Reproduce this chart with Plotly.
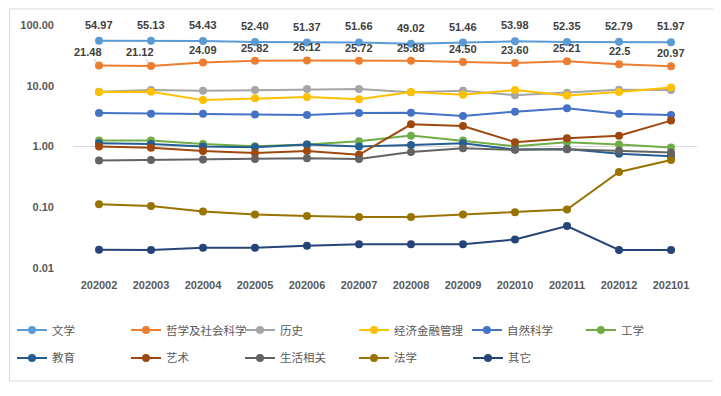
import math
import plotly.graph_objects as go

months = ["202002", "202003", "202004", "202005", "202006", "202007",
          "202008", "202009", "202010", "202011", "202012", "202101"]

wenxue = [54.97, 55.13, 54.43, 52.40, 51.37, 51.66, 49.02, 51.46, 53.98, 52.35, 52.79, 51.97]
zhexue = [21.48, 21.12, 24.09, 25.82, 26.12, 25.72, 25.88, 24.50, 23.60, 25.21, 22.5, 20.97]
lishi = [8.0, 8.5, 8.3, 8.5, 8.8, 8.8, 7.8, 8.3, 7.0, 7.7, 8.6, 8.5]
jingji = [7.9, 8.0, 5.8, 6.2, 6.5, 6.0, 7.9, 7.1, 8.5, 6.9, 7.9, 9.4]
ziran = [3.57, 3.47, 3.47, 3.35, 3.30, 3.57, 3.60, 3.18, 3.75, 4.25, 3.47, 3.30]
gongxue = [1.25, 1.25, 1.10, 1.01, 1.08, 1.22, 1.51, 1.25, 1.01, 1.18, 1.08, 0.96]
jiaoyu = [1.13, 1.10, 1.00, 0.97, 1.08, 1.00, 1.06, 1.13, 0.89, 0.91, 0.76, 0.69]
yishu = [1.00, 0.95, 0.84, 0.78, 0.84, 0.73, 2.32, 2.18, 1.18, 1.37, 1.50, 2.67]
shenghuo = [0.59, 0.60, 0.61, 0.62, 0.64, 0.62, 0.81, 0.94, 0.88, 0.90, 0.85, 0.80]
faxue = [0.112, 0.105, 0.085, 0.076, 0.072, 0.069, 0.069, 0.076, 0.083, 0.092, 0.38, 0.60]
qita = [0.020, 0.0197, 0.0216, 0.0216, 0.0233, 0.0245, 0.0245, 0.0245, 0.0295, 0.049, 0.0198, 0.0198]

wenxue_labels = ["54.97", "55.13", "54.43", "52.40", "51.37", "51.66",
                 "49.02", "51.46", "53.98", "52.35", "52.79", "51.97"]
zhexue_labels = ["21.48", "21.12", "24.09", "25.82", "26.12", "25.72",
                 "25.88", "24.50", "23.60", "25.21", "22.5", "20.97"]

ytick_vals = [0.01, 0.1, 1, 10, 100]
ytick_text = ["0.01", "0.10", "1.00", "10.00", "100.00"]

series = [
    ("文学", wenxue, "#5B9BD5", "legend"),
    ("哲学及社会科学", zhexue, "#ED7D31", "legend"),
    ("历史", lishi, "#A5A5A5", "legend"),
    ("经济金融管理", jingji, "#FFC000", "legend"),
    ("自然科学", ziran, "#4472C4", "legend3"),
    ("工学", gongxue, "#70AD47", "legend3"),
    ("教育", jiaoyu, "#255E91", "legend2"),
    ("艺术", yishu, "#9E480E", "legend2"),
    ("生活相关", shenghuo, "#636363", "legend2"),
    ("法学", faxue, "#997300", "legend2"),
    ("其它", qita, "#264478", "legend2"),
]

num_font = dict(family="Liberation Sans, Arial, sans-serif", size=11,
                color="#404040", weight="bold")
tick_font = dict(family="Liberation Sans, Arial, sans-serif", size=11,
                 color="#595959", weight="bold")

fig = go.Figure()
for name, vals, color, lg in series:
    fig.add_trace(go.Scatter(
        x=months, y=vals, name=name, legend=lg, mode="lines+markers",
        line=dict(color=color, width=2),
        marker=dict(color=color, size=8),
        cliponaxis=False,
    ))

# data labels (annotation positions on a log axis are given in log10 units)
annotations = []
for i, (v, t) in enumerate(zip(wenxue, wenxue_labels)):
    annotations.append(dict(x=i, y=math.log10(v), xref="x", yref="y", text=t,
                            showarrow=False, yshift=16, font=num_font))
for i, (v, t) in enumerate(zip(zhexue, zhexue_labels)):
    if i < 2:
        annotations.append(dict(x=i, y=math.log10(v), xref="x", yref="y", text=t,
                                showarrow=True, arrowhead=0,
                                arrowwidth=0.8, arrowcolor="#A6A6A6",
                                ax=-11, ay=-14, standoff=3, font=num_font))
    else:
        annotations.append(dict(x=i, y=math.log10(v), xref="x", yref="y", text=t,
                                showarrow=False, yshift=13, font=num_font))

# chart border
fig.add_shape(type="rect", xref="paper", yref="paper",
              x0=-0.1018, x1=1.0272, y0=-0.465, y1=1.066,
              line=dict(color="#D9D9D9", width=1), layer="below")
# faint line at 1.00
fig.add_shape(type="line", xref="paper", yref="y", x0=0, x1=1, y0=1, y1=1,
              line=dict(color="#D9D9D9", width=1), layer="below")

legend_common = dict(
    orientation="h", xanchor="left", yanchor="middle",
    xref="container", yref="container",
    font=dict(family="Noto Sans CJK SC", size=11.5, color="#595959"),
    entrywidth=69, entrywidthmode="pixels", bgcolor="rgba(0,0,0,0)",
    itemwidth=30, tracegroupgap=0,
)

fig.update_layout(
    width=713, height=388,
    margin=dict(l=65, r=24, t=17, b=128, autoexpand=False),
    paper_bgcolor="white", plot_bgcolor="white",
    showlegend=True,
    annotations=annotations,
    legend=dict(x=0.0056, y=0.170, **legend_common),
    legend3=dict(x=0.6436, y=0.170, **legend_common),
    legend2=dict(x=0.0056, y=0.098, **legend_common),
    xaxis=dict(type="category", range=[-0.5, 11.5], autorange=False,
               showgrid=False, showline=False, zeroline=False,
               tickfont=tick_font, ticks="", ticklabelstandoff=9),
    yaxis=dict(type="log", range=[-2, 2], autorange=False,
               tickvals=ytick_vals, ticktext=ytick_text,
               showgrid=False, showline=False, zeroline=False,
               tickfont=tick_font, ticks="", ticklabelstandoff=18),
)

fig.write_html("out.html")
